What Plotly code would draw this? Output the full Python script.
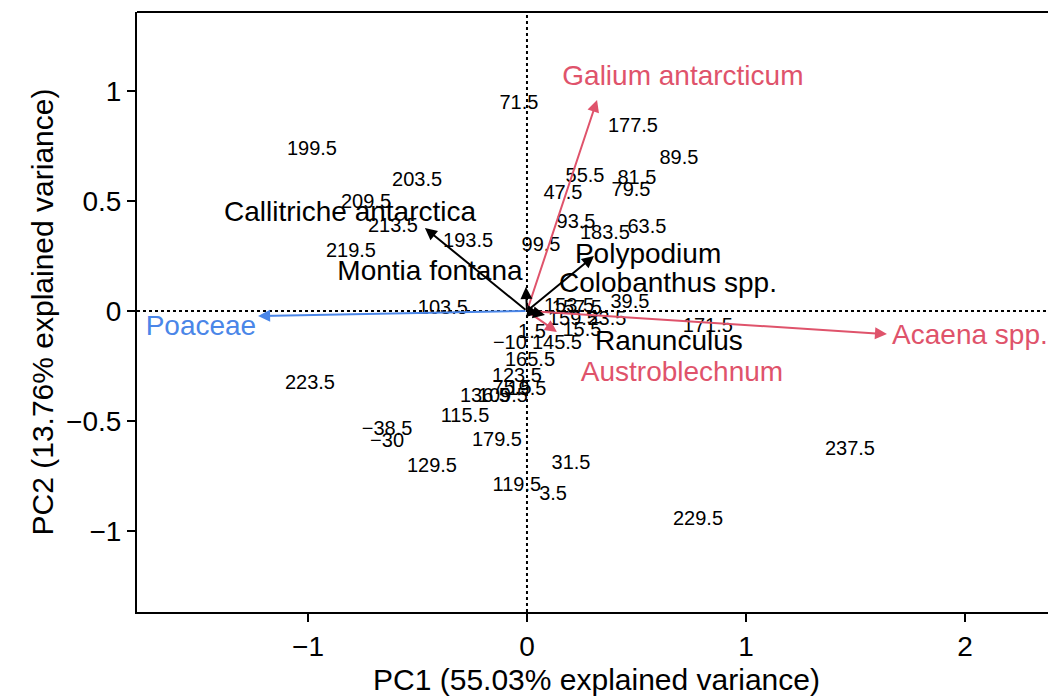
import plotly.graph_objects as go

# ---- data: sample scores (PC1, PC2) ----
sample_labels = ["71.5", "199.5", "203.5", "209.5", "213.5", "193.5", "219.5", "99.5",
                 "177.5", "89.5", "55.5", "81.5", "79.5", "47.5", "93.5", "183.5", "63.5",
                 "103.5", "153.5", "157.5", "39.5", "159.5", "23.5", "15.5", "1.5", "\u221210",
                 "145.5", "165.5", "123.5", "19.5", "75.5", "136.5", "109.5", "115.5",
                 "\u221238.5", "\u221230", "179.5", "129.5", "31.5", "119.5", "3.5", "223.5",
                 "237.5", "229.5", "171.5"]
sample_pc1 = [-0.037, -0.982, -0.502, -0.735, -0.612, -0.269, -0.804, 0.064,
              0.484, 0.694, 0.265, 0.502, 0.475, 0.164, 0.224, 0.356, 0.548,
              -0.384, 0.192, 0.228, 0.470, 0.210, 0.365, 0.251, 0.023, -0.078,
              0.137, 0.014, -0.046, 0.000, -0.068, -0.192, -0.110, -0.283,
              -0.639, -0.639, -0.137, -0.434, 0.201, -0.046, 0.119, -0.991,
              1.475, 0.781, 0.826]
sample_pc2 = [0.941, 0.732, 0.591, 0.491, 0.382, 0.314, 0.268, 0.295,
              0.836, 0.691, 0.609, 0.600, 0.545, 0.532, 0.400, 0.350, 0.377,
              0.009, 0.018, 0.009, 0.036, -0.041, -0.041, -0.091, -0.100, -0.150,
              -0.150, -0.227, -0.300, -0.359, -0.355, -0.391, -0.391, -0.482,
              -0.541, -0.595, -0.591, -0.709, -0.695, -0.795, -0.836, -0.332,
              -0.632, -0.950, -0.073]

# ---- data: species loadings (arrows) ----
species = ["Galium antarcticum", "Acaena spp.", "Austroblechnum", "Poaceae",
           "Callitriche antarctica", "Montia fontana", "Polypodium",
           "Colobanthus spp.", "Ranunculus"]
load_pc1 = [0.320, 1.644, 0.137, -1.228, -0.466, -0.005, 0.306, 0.055, 0.082]
load_pc2 = [0.959, -0.105, -0.095, -0.023, 0.377, 0.109, 0.250, -0.010, -0.018]
label_pc1 = [0.712, 2.023, 0.708, -1.489, -0.808, -0.443, 0.553, 0.644, 0.648]
label_pc2 = [1.059, -0.118, -0.286, -0.077, 0.441, 0.173, 0.250, 0.118, -0.145]
species_group = ["red", "red", "red", "blue", "black", "black", "black", "black", "black"]

x_ticks = [-1, 0, 1, 2]
y_ticks = [-1, -0.5, 0, 0.5, 1]
x_title = "PC1 (55.03% explained variance)"
y_title = "PC2 (13.76% explained variance)"

palette = {"red": "#DF536B", "blue": "#4A86E8", "black": "#000000"}
FONT = "Liberation Sans, Arial, sans-serif"

fig = go.Figure()

# sample labels
fig.add_trace(go.Scatter(x=sample_pc1, y=sample_pc2, mode="text", text=sample_labels,
                         textfont=dict(family=FONT, size=20, color="black"),
                         hoverinfo="skip", showlegend=False))

# species labels
fig.add_trace(go.Scatter(x=label_pc1, y=label_pc2, mode="text", text=species,
                         textfont=dict(family=FONT, size=28,
                                       color=[palette[g] for g in species_group]),
                         hoverinfo="skip", showlegend=False))

# arrows
for sx, sy, g in zip(load_pc1, load_pc2, species_group):
    fig.add_annotation(x=sx, y=sy, ax=0, ay=0, xref="x", yref="y", axref="x", ayref="y",
                       text="", showarrow=True, arrowhead=2, arrowsize=1.2,
                       arrowwidth=2, arrowcolor=palette[g], standoff=0, startstandoff=0)

# dotted zero lines
fig.add_hline(y=0, line=dict(color="black", width=2, dash="dot"))
fig.add_vline(x=0, line=dict(color="black", width=2, dash="dot"))

# top border of the frame
fig.add_shape(type="line", xref="paper", yref="paper", x0=0, x1=1, y0=1, y1=1,
              line=dict(color="black", width=2))

fig.update_xaxes(range=[-1.781, 2.416], tickvals=x_ticks, ticktext=["\u22121", "0", "1", "2"],
                 showgrid=False, zeroline=False, showline=True, linecolor="black",
                 linewidth=2, ticks="outside", ticklen=8, tickwidth=1.5, tickcolor="black",
                 tickfont=dict(family=FONT, size=28, color="black"),
                 title=dict(text=x_title, font=dict(family=FONT, size=30, color="black"),
                            standoff=8))
fig.update_yaxes(range=[-1.368, 1.359], tickvals=y_ticks,
                 ticktext=["\u22121", "\u22120.5", "0", "0.5", "1"],
                 showgrid=False, zeroline=False, showline=True, linecolor="black",
                 linewidth=2, ticks="outside", ticklen=8, tickwidth=1.5, tickcolor="black",
                 tickfont=dict(family=FONT, size=28, color="black"),
                 title=dict(text=y_title, font=dict(family=FONT, size=30, color="black"),
                            standoff=4))

fig.update_layout(width=1048, height=689, plot_bgcolor="white", paper_bgcolor="white",
                  margin=dict(l=129, r=0, t=4, b=85), showlegend=False)

fig.write_html("out.html")
